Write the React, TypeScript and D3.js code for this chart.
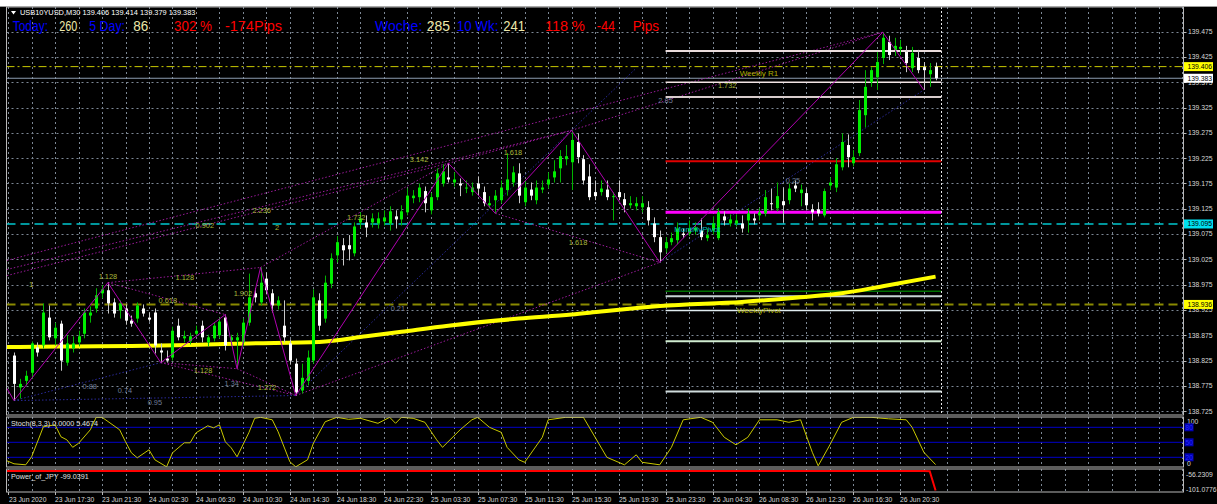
import React from 'react';
import * as d3 from 'd3';

// ---------------- DATA ----------------
const symbolTitle = 'USB10YUSD,M30  139.406 139.414 139.379 139.383';

// [open, high, low, close] per M30 bar
const ohlc: [number, number, number, number][] = [
  [138.835,138.841,138.746,138.779],[138.772,138.789,138.750,138.779],[138.785,138.805,138.776,138.795],[138.801,138.863,138.789,138.859],
  [138.851,138.861,138.833,138.841],[138.855,138.938,138.849,138.920],[138.910,138.934,138.865,138.871],[138.869,138.900,138.855,138.890],
  [138.898,138.904,138.805,138.825],[138.821,138.875,138.815,138.859],[138.849,138.873,138.841,138.859],[138.861,138.884,138.853,138.873],
  [138.878,138.928,138.869,138.920],[138.914,138.932,138.900,138.920],[138.928,138.968,138.920,138.954],[138.958,138.974,138.948,138.966],
  [138.964,138.979,138.918,138.938],[138.940,138.948,138.910,138.918],[138.924,138.944,138.908,138.938],[138.928,138.936,138.896,138.904],
  [138.904,138.914,138.892,138.898],[138.908,138.940,138.900,138.934],[138.928,138.936,138.912,138.918],[138.910,138.920,138.902,138.906],
  [138.920,138.928,138.839,138.855],[138.845,138.859,138.821,138.841],[138.829,138.845,138.821,138.825],[138.831,138.892,138.825,138.884],
  [138.894,138.908,138.865,138.871],[138.869,138.884,138.861,138.873],[138.863,138.880,138.857,138.873],[138.878,138.894,138.873,138.884],
  [138.894,138.904,138.861,138.871],[138.861,138.876,138.853,138.871],[138.869,138.900,138.863,138.894],[138.875,138.910,138.869,138.902],
  [138.910,138.916,138.845,138.855],[138.865,138.876,138.855,138.871],[138.865,138.880,138.809,138.871],[138.861,138.908,138.853,138.900],
  [138.900,138.997,138.894,138.950],[138.958,138.968,138.940,138.950],[138.940,139.009,138.934,138.979],[138.987,138.999,138.956,138.964],
  [138.958,138.966,138.920,138.934],[138.934,138.952,138.926,138.944],[138.894,138.944,138.861,138.871],[138.859,138.867,138.817,138.825],
  [138.819,138.829,138.756,138.762],[138.766,138.819,138.760,138.791],[138.785,138.845,138.776,138.831],[138.825,138.966,138.819,138.950],
  [138.944,138.958,138.884,138.894],[138.908,138.993,138.900,138.979],[138.977,139.037,138.968,139.027],[139.033,139.071,139.019,139.059],
  [139.053,139.067,139.013,139.043],[139.053,139.073,139.023,139.045],[139.037,139.098,139.031,139.090],[139.098,139.118,139.086,139.106],
  [139.098,139.112,139.069,139.088],[139.098,139.116,139.088,139.106],[139.096,139.118,139.086,139.106],[139.100,139.122,139.092,139.108],
  [139.096,139.130,139.082,139.120],[139.110,139.122,139.086,139.104],[139.104,139.132,139.092,139.120],[139.118,139.165,139.112,139.151],
  [139.146,139.162,139.136,139.151],[139.148,139.175,139.138,139.167],[139.160,139.169,139.118,139.136],[139.122,139.156,139.114,139.148],
  [139.148,139.205,139.142,139.195],[139.175,139.213,139.169,139.199],[139.187,139.215,139.177,139.183],[139.177,139.197,139.169,139.183],
  [139.175,139.185,139.150,139.171],[139.165,139.181,139.156,139.167],[139.158,139.177,139.151,139.167],[139.175,139.189,139.151,139.165],
  [139.158,139.169,139.130,139.136],[139.132,139.150,139.126,139.136],[139.142,139.162,139.116,139.151],[139.142,139.181,139.136,139.167],
  [139.162,139.235,139.151,139.183],[139.177,139.209,139.169,139.197],[139.195,139.215,139.136,139.151],[139.138,139.181,139.130,139.167],
  [139.163,139.177,139.142,139.151],[139.142,139.181,139.134,139.167],[139.163,139.181,139.156,139.167],[139.173,139.197,139.165,139.183],
  [139.187,139.221,139.177,139.199],[139.205,139.241,139.177,139.229],[139.223,139.251,139.211,139.229],[139.217,139.280,139.162,139.261],
  [139.257,139.274,139.215,139.227],[139.223,139.231,139.173,139.181],[139.189,139.213,139.142,139.148],[139.158,139.181,139.142,139.150],
  [139.158,139.181,139.151,139.165],[139.163,139.181,139.142,139.148],[139.148,139.158,139.102,139.150],[139.158,139.181,139.142,139.148],
  [139.144,139.156,139.118,139.132],[139.132,139.150,139.126,139.136],[139.130,139.148,139.122,139.136],[139.128,139.150,139.118,139.136],
  [139.128,139.140,139.092,139.102],[139.096,139.108,139.059,139.069],[139.069,139.082,139.019,139.039],[139.047,139.069,139.039,139.059],
  [139.059,139.078,139.053,139.067],[139.063,139.098,139.055,139.086],[139.076,139.086,139.067,139.073],[139.076,139.102,139.071,139.086],
  [139.082,139.098,139.074,139.088],[139.082,139.106,139.063,139.069],[139.067,139.086,139.061,139.073],[139.082,139.110,139.074,139.096],
  [139.067,139.126,139.063,139.118],[139.110,139.120,139.092,139.102],[139.096,139.114,139.090,139.104],[139.096,139.114,139.090,139.102],
  [139.096,139.112,139.078,139.086],[139.102,139.126,139.078,139.116],[139.106,139.116,139.094,139.102],[139.112,139.126,139.102,139.118],
  [139.116,139.162,139.110,139.148],[139.136,139.165,139.122,139.134],[139.126,139.177,139.120,139.150],[139.140,139.167,139.098,139.132],
  [139.142,139.175,139.134,139.165],[139.171,139.181,139.158,139.165],[139.156,139.173,139.130,139.163],[139.156,139.165,139.122,139.132],
  [139.124,139.134,139.102,139.118],[139.124,139.138,139.110,139.116],[139.112,139.165,139.108,139.160],[139.171,139.187,139.162,139.177],
  [139.167,139.225,139.158,139.213],[139.207,139.274,139.201,139.257],[139.251,139.272,139.207,139.227],[139.215,139.241,139.209,139.227],
  [139.235,139.340,139.229,139.320],[139.310,139.399,139.286,139.366],[139.375,139.405,139.366,139.399],[139.385,139.435,139.360,139.415],
  [139.423,139.474,139.411,139.463],[139.455,139.467,139.419,139.429],[139.439,139.463,139.427,139.447],[139.441,139.459,139.429,139.445],
  [139.435,139.447,139.395,139.413],[139.403,139.445,139.395,139.433],[139.423,139.439,139.393,139.399],[139.405,139.415,139.360,139.399],
  [139.391,139.413,139.366,139.399],[139.406,139.414,139.379,139.383],
];

const priceTicks = [139.475,139.425,139.375,139.325,139.275,139.225,139.175,139.125,139.075,139.025,138.975,138.925,138.875,138.825,138.775,138.725];

const timeLabels = ['23 Jun 2020','23 Jun 17:30','23 Jun 21:30','24 Jun 02:30','24 Jun 06:30','24 Jun 10:30','24 Jun 14:30','24 Jun 18:30','24 Jun 22:30','25 Jun 03:30','25 Jun 07:30','25 Jun 11:30','25 Jun 15:30','25 Jun 19:30','25 Jun 23:30','26 Jun 04:30','26 Jun 08:30','26 Jun 12:30','26 Jun 16:30','26 Jun 20:30'];

// moving average (bar, price)
const maPoints: [number, number][] = [
  [-1.3,138.852],[0,138.852],[10,138.853],[20,138.854],[30,138.856],[40,138.859],[52,138.862],[60,138.873],[66,138.882],
  [74,138.894],[86,138.908],[95,138.916],[100,138.922],[107,138.930],[110,138.933],[124,138.941],[134,138.950],
  [141,138.958],[148,138.972],[157,138.991],
];

// stochastic main line (bar, value)
const stochPoints: [number, number][] = [
  [-1.2,13],[0,7],[2,5],[3,21],[5,81],[7,85],[8,61],[9,55],[10,40],[11,48],[13,75],[14,100],[15,100],[18,75],[19,51],[20,29],[21,19],
  [23,35],[24,15],[26,1],[27,29],[29,49],[30,49],[31,69],[33,83],[34,79],[35,85],[36,51],[37,39],[38,21],[40,69],[41,98],[42,100],
  [44,95],[45,71],[47,11],[48,1],[50,15],[51,48],[53,91],[55,100],[57,96],[59,98],[62,88],[64,100],[65,88],[66,100],[68,98],[70,90],
  [72,55],[73,40],[76,75],[78,95],[79,100],[81,80],[83,70],[84,40],[86,15],[87,10],[90,60],[91,95],[94,100],[97,100],[99,60],
  [101,20],[104,5],[106,25],[107,10],[110,5],[112,40],[114,95],[117,100],[119,90],[121,60],[123,45],[125,60],[127,95],[130,95],
  [132,90],[134,95],[136,30],[137,3],[139,45],[141,90],[143,100],[146,100],[149,97],[152,95],[153,80],[155,30],[157,5.4674],
];
const stochLevels = [80, 50, 20];

// Power_of_JPY (bar, value)
const powerPoints: [number, number][] = [[-1.2,-57.0],[155,-57.0],[156,-57.6],[157,-99.0391]];

// zigzag swing points (bar, price)
const zigzag: [number, number][] = [
  [-1.2,138.770],[0,138.746],[16,138.979],[25,138.821],[36,138.916],[38,138.809],[42,139.009],[48,138.756],
  [74,139.215],[82,139.116],[95,139.280],[110,139.019],[148,139.474],[155,139.360],
];

// harmonic dotted lines [bar1, price1, bar2, price2]
const purpleDotted: [number, number, number, number][] = [
  [16,138.979,36,138.916],[25,138.821,38,138.809],[16,138.979,42,139.009],[38,138.809,48,138.756],[25,138.821,48,138.756],
  [42,139.009,74,139.215],[74,139.215,95,139.280],[82,139.116,110,139.019],[48,138.756,110,139.019],[95,139.280,148,139.474],
  [-1.2,139.023,148,139.474],[-1.2,138.993,74,139.215],[-1.2,139.005,95,139.280],
];
const navyDotted: [number, number, number, number][] = [
  [0,138.746,25,138.821],[0,138.746,48,138.756],[48,138.756,106,139.403],[110,139.019,155,139.360],
];

// fib / pattern labels (text, bar, price)
const fibLabels: [string, number, number][] = [
  ['1',2.9,138.975],['1.128',16,138.991],['1.128',29.1,138.989],['0.618',26.2,138.944],['1.902',39,138.958],['1.128',32.2,138.805],
  ['1.272',43.1,138.773],['0.902',32.5,139.092],['2',44.8,139.088],['2.236',42.2,139.122],['1.732',58.3,139.108],['3.142',69,139.223],
  ['1.618',85,139.237],['1.618',96.1,139.059],['1.732',121.5,139.368],
];
const grayLabels: [string, number, number][] = [
  ['0.88',12.9,138.774],['0.74',18.9,138.766],['0.95',24,138.742],['1.34',37.1,138.779],['0.21',65.4,138.928],['2.85',111,139.340],['0.25',132.7,139.181],
];

// pivot levels drawn over the last day
const pivotLevels = [139.437,139.375,139.346,139.219,139.118,138.962,138.952,138.924,138.863,138.764];
const pivotStyles = [
  { c: '#eadcdc', w: 2 },{ c: '#f2e4e4', w: 1.5 },{ c: '#d8cccc', w: 2 },{ c: '#e00000', w: 2 },{ c: '#ff00ff', w: 3 },
  { c: '#007000', w: 1.5 },{ c: '#c8d4d4', w: 2 },{ c: '#e0ecf0', w: 1.5 },{ c: '#d0ecd0', w: 2 },{ c: '#d0dcdc', w: 2 },
];
const pivotNames: [string, number, number][] = [['Weekly R1',126.9,139.393],['WeeklyPivot',126.9,138.924]];
const monthlyPivot: [string, number, number] = ['MonthlyPivot',116.4,139.084];

// full-width price lines
const lineAsk = 139.406;
const lineBid = 139.383;
const lineCyan = 139.095;
const lineOlive = 138.936;

// header statistics
const headerSegs: [string, string][] = [
  ['Today:', 'b'],['260', 'k'],['5 Day:', 'b'],['86', 'k'],['302 %', 'r'],['-174Pips', 'r'],
  ['Woche:', 'b'],['285', 'k'],['10 Wk:', 'b'],['241', 'k'],['118 %', 'r'],['-44', 'r'],['Pips', 'r'],
];
const headerX = [12.7,59.3,89.3,133.3,174,225,375,426.7,456.7,503.3,545,596.7,632.7];
const headerW = [35.3,18,35.7,15,38,57,47.3,23.3,41.7,21.7,40,18.3,26.3];

const stochTitle = 'Stoch(8,3,3) 0.0000 5.4674';
const powerTitle = 'Power_of_JPY -99.0391';
const powerScale = [-56.2309, -101.0776];

// ---------------- LAYOUT ----------------
const W = 1217, H = 504;
const L = 6.5, R = 1183.5;
const mainTop = 7, mainBot = 415;
const stTop = 417, stBot = 467;
const pwTop = 469, pwBot = 492;
const FONT = 'Liberation Sans, Arial, sans-serif';
const FS = 6.8;

export default function App() {
  const x = d3.scaleLinear().domain([0, 157]).range([14, 14 + 157 * 5.87]);
  const y = d3.scaleLinear().domain([138.725, 139.475]).range([411.2, 31.7]);
  const ys = d3.scaleLinear().domain([0, 100]).range([467.3, 417.3]);
  const yp = d3.scaleLinear().domain([-101.0776, -56.2309]).range([491.5, 470.6]);

  const gridBars: number[] = [];
  for (let b = -1; x(b) < R; b += 4) gridBars.push(b);

  const maLine = d3.line<[number, number]>().x(d => x(d[0])).y(d => y(d[1])).curve(d3.curveMonotoneX);
  const stLine = d3.line<[number, number]>().x(d => x(d[0])).y(d => ys(d[1]));
  const pwLine = d3.line<[number, number]>().x(d => x(d[0])).y(d => yp(d[1]));
  const zzLine = d3.line<[number, number]>().x(d => x(d[0])).y(d => y(d[1]));

  const grid = '#7c8794';
  const axisText = '#d8d8d8';

  const priceBox = (v: number, bg: string, fg: string) => (
    <g key={'pb' + v}>
      <rect x={R + 0.5} y={y(v) - 4.5} width={29} height={9} fill={bg} />
      <text x={R + 4} y={y(v)} dy="0.35em" fontSize={FS} fill={fg}>{v.toFixed(3)}</text>
    </g>
  );

  const colorOf = (k: string) => (k === 'b' ? '#0000ff' : k === 'k' ? '#eee8aa' : '#ff0000');

  return (
    <svg width={W} height={H} style={{ position: 'absolute', left: 0, top: 0 }} fontFamily={FONT}>
      <defs>
        <clipPath id="clipMain"><rect x={L} y={mainTop} width={R - L} height={mainBot - mainTop} /></clipPath>
        <clipPath id="clipSt"><rect x={L} y={stTop} width={R - L} height={stBot - stTop} /></clipPath>
        <clipPath id="clipPw"><rect x={L} y={pwTop} width={R - L} height={pwBot - pwTop} /></clipPath>
      </defs>
      <rect width={W} height={H} fill="#000" />
      <rect width={W} height={6} fill="#ffffff" />
      <line x1={0} x2={W} y1={6.5} y2={6.5} stroke="#9a9a9a" />

      {/* vertical grid */}
      {gridBars.map(b => (
        <g key={'vg' + b}>
          <line x1={Math.round(x(b)) + 0.5} x2={Math.round(x(b)) + 0.5} y1={mainTop} y2={mainBot} stroke={grid} strokeDasharray="2,3" />
          <line x1={Math.round(x(b)) + 0.5} x2={Math.round(x(b)) + 0.5} y1={stTop} y2={stBot} stroke={grid} strokeDasharray="2,3" />
          <line x1={Math.round(x(b)) + 0.5} x2={Math.round(x(b)) + 0.5} y1={pwTop} y2={pwBot} stroke={grid} strokeDasharray="2,3" />
        </g>
      ))}
      {/* horizontal grid */}
      {priceTicks.map(p => (
        <line key={'hg' + p} x1={L} x2={R} y1={Math.round(y(p)) + 0.5} y2={Math.round(y(p)) + 0.5} stroke={grid} strokeDasharray="2,3" />
      ))}

      <g clipPath="url(#clipMain)">
        {/* full-width lines */}
        <line x1={L} x2={R} y1={y(lineAsk)} y2={y(lineAsk)} stroke="#c8c800" strokeDasharray="8,3,2,3" />
        <line x1={L} x2={R} y1={y(lineBid)} y2={y(lineBid)} stroke="#8c9cb0" />
        <line x1={L} x2={R} y1={y(lineCyan)} y2={y(lineCyan)} stroke="#00c8d0" strokeWidth={1.5} strokeDasharray="9,5" />
        <line x1={L} x2={R} y1={y(lineOlive)} y2={y(lineOlive)} stroke="#8a8a00" strokeWidth={2} strokeDasharray="9,5" />

        {/* dotted harmonic lines */}
        {purpleDotted.map((d, i) => (
          <line key={'pd' + i} x1={x(d[0])} y1={y(d[1])} x2={x(d[2])} y2={y(d[3])} stroke="#9a1a9a" strokeDasharray="1.5,2" />
        ))}
        {navyDotted.map((d, i) => (
          <line key={'nd' + i} x1={x(d[0])} y1={y(d[1])} x2={x(d[2])} y2={y(d[3])} stroke="#2a2a9a" strokeDasharray="1.5,2" />
        ))}

        {/* pivot levels */}
        {pivotLevels.map((p, i) => (
          <line key={'pv' + i} x1={x(111)} x2={x(158)} y1={y(p)} y2={y(p)} stroke={pivotStyles[i].c} strokeWidth={pivotStyles[i].w} />
        ))}
        <line x1={Math.round(x(158)) + 0.5} x2={Math.round(x(158)) + 0.5} y1={mainTop} y2={mainBot} stroke="#e8e8e8" strokeDasharray="2,2" />

        {/* moving average */}
        <path d={maLine(maPoints) || ''} fill="none" stroke="#ffff00" strokeWidth={4} />

        {/* candles */}
        {ohlc.map((c, i) => {
          const [o, h, l, cl] = c;
          const up = cl >= o;
          const cx = Math.round(x(i));
          const top = y(Math.max(o, cl));
          const bot = y(Math.min(o, cl));
          return (
            <g key={'c' + i}>
              <line x1={cx + 0.5} x2={cx + 0.5} y1={y(h)} y2={y(l)} stroke={up ? '#00b400' : '#c8c8c8'} />
              <rect x={cx - 1} y={top} width={3} height={Math.max(1, bot - top)} fill={up ? '#00ee00' : '#ffffff'} />
            </g>
          );
        })}

        {/* zigzag */}
        <path d={zzLine(zigzag) || ''} fill="none" stroke="#b000b0" strokeWidth={1} />

        {/* labels */}
        {fibLabels.map((d, i) => (
          <text key={'fl' + i} x={x(d[1])} y={y(d[2])} dy="0.35em" textAnchor="middle" fontSize={7.4} fill="#a8b83a">{d[0]}</text>
        ))}
        {grayLabels.map((d, i) => (
          <text key={'gl' + i} x={x(d[1])} y={y(d[2])} dy="0.35em" textAnchor="middle" fontSize={7.4} fill="#6f7c98">{d[0]}</text>
        ))}
        {pivotNames.map((d, i) => (
          <text key={'pn' + i} x={x(d[1])} y={y(d[2])} dy="0.35em" textAnchor="middle" fontSize={8} fill="#b0b000">{d[0]}</text>
        ))}
        <text x={x(monthlyPivot[1])} y={y(monthlyPivot[2])} dy="0.35em" textAnchor="middle" fontSize={8} fill="#00b8c0">{monthlyPivot[0]}</text>
      </g>

      {/* header */}
      <path d="M11,11 L16,11 L13.5,14.5 Z" fill="#ffffff" />
      <text x={20} y={14.5} fontSize={7.4} fill="#ffffff">{symbolTitle}</text>
      {headerSegs.map((s, i) => (
        <text key={'h' + i} x={headerX[i]} y={31} fontSize={14} fill={colorOf(s[1])} textLength={headerW[i]} lengthAdjust="spacingAndGlyphs">{s[0]}</text>
      ))}

      {/* stochastic panel */}
      <g clipPath="url(#clipSt)">
        {stochLevels.map(v => (
          <line key={'sl' + v} x1={L} x2={R} y1={ys(v)} y2={ys(v)} stroke="#0000c8" />
        ))}
        <path d={stLine(stochPoints) || ''} fill="none" stroke="#c8c800" strokeWidth={1} />
      </g>
      <text x={11} y={426} fontSize={7.2} fill="#e0e0e0">{stochTitle}</text>

      {/* power panel */}
      <g clipPath="url(#clipPw)">
        <path d={pwLine(powerPoints) || ''} fill="none" stroke="#ff0000" strokeWidth={2} />
      </g>
      <text x={11} y={479} fontSize={7.2} fill="#e0e0e0">{powerTitle}</text>

      {/* panel borders */}
      <rect x={L} y={mainTop} width={R - L} height={mainBot - mainTop} fill="none" stroke="#b8b8b8" />
      <rect x={L} y={stTop} width={R - L} height={stBot - stTop} fill="none" stroke="#b8b8b8" />
      <rect x={L} y={pwTop} width={R - L} height={pwBot - pwTop} fill="none" stroke="#b8b8b8" />

      {/* price axis */}
      {priceTicks.map(p => (
        <g key={'pt' + p}>
          <line x1={R} x2={R + 3} y1={Math.round(y(p)) + 0.5} y2={Math.round(y(p)) + 0.5} stroke="#b8b8b8" />
          <text x={R + 4.5} y={y(p)} dy="0.35em" fontSize={FS} fill={axisText}>{p.toFixed(3)}</text>
        </g>
      ))}
      {priceBox(lineAsk, '#ffff00', '#000')}
      {priceBox(lineBid, '#ffffff', '#000')}
      {priceBox(lineCyan, '#00e0f0', '#000')}
      {priceBox(lineOlive, '#ffff00', '#000')}

      {/* stoch axis */}
      <text x={R + 3.5} y={ys(100) + 4.5} dy="0.35em" fontSize={FS} fill={axisText}>100</text>
      {stochLevels.map(v => (
        <g key={'sb' + v}>
          <rect x={R + 1} y={ys(v) - 4} width={9} height={8} fill="#0000b4" />
          <text x={R + 2} y={ys(v)} dy="0.35em" fontSize={6.6} fill="#2a2aff">{v}</text>
        </g>
      ))}
      <text x={R + 3.5} y={ys(0) - 3.5} dy="0.35em" fontSize={FS} fill={axisText}>0</text>

      {/* power axis */}
      <text x={R + 2.5} y={475} dy="0.35em" fontSize={FS} fill={axisText}>{powerScale[0].toFixed(4)}</text>
      <text x={R + 2.5} y={490} dy="0.35em" fontSize={FS} fill={axisText}>{powerScale[1].toFixed(4)}</text>

      {/* time axis */}
      {timeLabels.map((t, i) => {
        const bx = Math.round(x(-1 + 8 * i)) + 0.5;
        return (
          <g key={'tl' + i}>
            <line x1={bx} x2={bx} y1={pwBot} y2={pwBot + 3} stroke="#b8b8b8" />
            <text x={bx + (i === 0 ? 0.5 : -0.5)} y={501.5} fontSize={FS} fill={axisText}>{t}</text>
          </g>
        );
      })}
    </svg>
  );
}
